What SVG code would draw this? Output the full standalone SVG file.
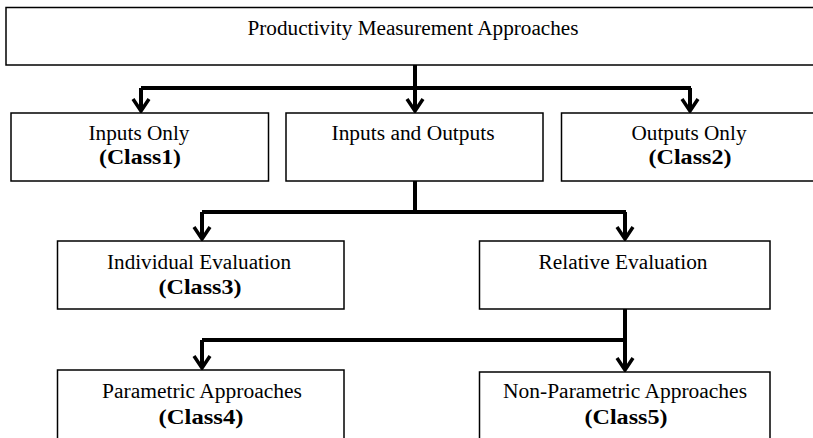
<svg xmlns="http://www.w3.org/2000/svg" width="813" height="438" viewBox="0 0 813 438">
<style>
.box{fill:#fff;stroke:#000;stroke-width:1.5}
.t{font-family:"Liberation Serif","Times New Roman",serif;font-size:20px;fill:#000;text-anchor:middle}
.c{font-weight:bold}
.ln{fill:none;stroke:#000;stroke-width:4;stroke-linejoin:miter}
</style>
<defs>
<marker id="ah" viewBox="0 0 20 20" refX="18" refY="10" markerWidth="20" markerHeight="20" markerUnits="userSpaceOnUse" orient="auto">
<path d="M6,2 L18,10 L6,18" fill="none" stroke="#000" stroke-width="3.5" stroke-linejoin="miter"/>
</marker>
</defs>
<rect width="813" height="438" fill="#fff"/>
<g id="connectors">
<path class="ln" d="M415,65 V88"/>
<path class="ln" d="M141,88 H691"/>
<path class="ln" d="M141,88 V111" marker-end="url(#ah)"/>
<path class="ln" d="M415,88 V111" marker-end="url(#ah)"/>
<path class="ln" d="M690,88 V111" marker-end="url(#ah)"/>
<path class="ln" d="M415,181 V212"/>
<path class="ln" d="M202,212 H626"/>
<path class="ln" d="M202,212 V239" marker-end="url(#ah)"/>
<path class="ln" d="M625,212 V239" marker-end="url(#ah)"/>
<path class="ln" d="M625,309 V340"/>
<path class="ln" d="M202,340 H626"/>
<path class="ln" d="M202,340 V368" marker-end="url(#ah)"/>
<path class="ln" d="M625,340 V370" marker-end="url(#ah)"/>
</g>
<g id="root">
<rect class="box" x="6" y="7.5" width="812" height="57.5"/>
<text class="t" x="413" y="35" textLength="331" lengthAdjust="spacingAndGlyphs">Productivity Measurement Approaches</text>
</g>
<g id="inputs-only">
<rect class="box" x="11" y="113" width="257.5" height="68"/>
<text class="t" x="139" y="140" textLength="101" lengthAdjust="spacingAndGlyphs">Inputs Only</text>
<text class="t c" x="140" y="164" textLength="82" lengthAdjust="spacingAndGlyphs">(Class1)</text>
</g>
<g id="inputs-outputs">
<rect class="box" x="286" y="113" width="257" height="68"/>
<text class="t" x="413" y="140" textLength="163" lengthAdjust="spacingAndGlyphs">Inputs and Outputs</text>
</g>
<g id="outputs-only">
<rect class="box" x="561.5" y="113" width="260" height="68"/>
<text class="t" x="689" y="140" textLength="115" lengthAdjust="spacingAndGlyphs">Outputs Only</text>
<text class="t c" x="690" y="164" textLength="83" lengthAdjust="spacingAndGlyphs">(Class2)</text>
</g>
<g id="individual">
<rect class="box" x="57.5" y="241" width="286.5" height="68"/>
<text class="t" x="199" y="268.5" textLength="184" lengthAdjust="spacingAndGlyphs">Individual Evaluation</text>
<text class="t c" x="200" y="293.5" textLength="83" lengthAdjust="spacingAndGlyphs">(Class3)</text>
</g>
<g id="relative">
<rect class="box" x="479.5" y="241" width="290.5" height="68"/>
<text class="t" x="623" y="268.5" textLength="169" lengthAdjust="spacingAndGlyphs">Relative Evaluation</text>
</g>
<g id="parametric">
<rect class="box" x="57.5" y="370" width="286.5" height="80"/>
<text class="t" x="202" y="398" textLength="200" lengthAdjust="spacingAndGlyphs">Parametric Approaches</text>
<text class="t c" x="201" y="423.5" textLength="85" lengthAdjust="spacingAndGlyphs">(Class4)</text>
</g>
<g id="non-parametric">
<rect class="box" x="479.5" y="372" width="290.5" height="80"/>
<text class="t" x="625" y="398" textLength="244" lengthAdjust="spacingAndGlyphs">Non-Parametric Approaches</text>
<text class="t c" x="626" y="423.5" textLength="83" lengthAdjust="spacingAndGlyphs">(Class5)</text>
</g>
</svg>
